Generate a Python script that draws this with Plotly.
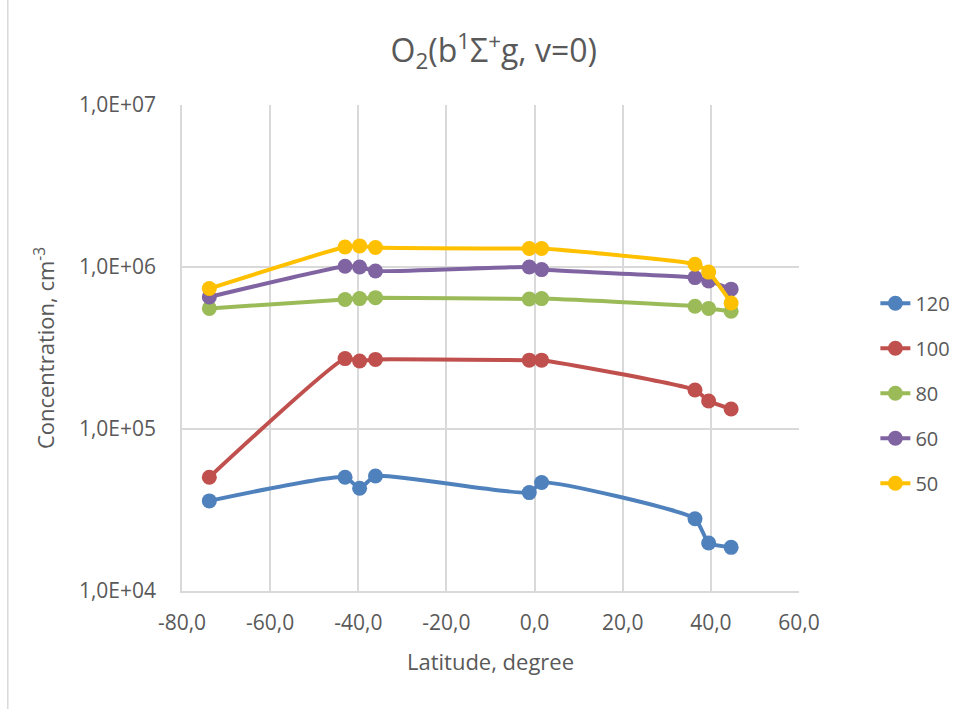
import plotly.graph_objects as go

latitude = [-73.8, -43.0, -39.7, -36.1, -1.2, 1.6, 36.4, 39.5, 44.6]

series_names = ["120", "100", "80", "60", "50"]
conc_120 = [3.6e4, 5.04e4, 4.31e4, 5.13e4, 4.05e4, 4.67e4, 2.79e4, 1.98e4, 1.86e4]
conc_100 = [5.04e4, 2.72e5, 2.63e5, 2.69e5, 2.66e5, 2.66e5, 1.74e5, 1.49e5, 1.33e5]
conc_80 = [5.55e5, 6.30e5, 6.38e5, 6.47e5, 6.35e5, 6.38e5, 5.73e5, 5.55e5, 5.33e5]
conc_60 = [6.53e5, 1.01e6, 1.00e6, 9.45e5, 1.00e6, 9.64e5, 8.60e5, 8.20e5, 7.30e5]
conc_50 = [7.36e5, 1.33e6, 1.35e6, 1.32e6, 1.30e6, 1.30e6, 1.04e6, 9.30e5, 6.00e5]

colors = ["#4F81BD", "#C0504D", "#9BBB59", "#8064A2", "#FFC000"]

x_tickvals = [-80, -60, -40, -20, 0, 20, 40, 60]
x_ticktext = ["-80,0", "-60,0", "-40,0", "-20,0", "0,0", "20,0", "40,0", "60,0"]
y_tickvals = [1e4, 1e5, 1e6, 1e7]
y_ticktext = ["1,0E+04", "1,0E+05", "1,0E+06", "1,0E+07"]

FONT = "Open Sans"
GRAY = "#595959"
GRID = "#D9D9D9"

fig = go.Figure()
for name, vals, col in zip(series_names, [conc_120, conc_100, conc_80, conc_60, conc_50], colors):
    fig.add_trace(go.Scatter(
        x=latitude, y=vals, name=name, mode="lines+markers",
        line=dict(color=col, width=4, shape="spline", smoothing=0.5),
        marker=dict(color=col, size=15),
        legendgroup=name,
    ))

fig.update_layout(
    width=970, height=709,
    margin=dict(l=181.5, r=170.5, t=104.7, b=118.3),
    paper_bgcolor="white", plot_bgcolor="white",
    font=dict(family=FONT, color=GRAY),
    title=dict(
        text="O<sub>2</sub>(b<sup>1</sup>Σ<sup>+</sup>g, v=0)",
        x=0.509, xref="container", xanchor="center",
        y=1 - 51 / 709, yref="container", yanchor="middle",
        font=dict(family=FONT, size=32, color=GRAY),
    ),
    xaxis=dict(
        range=[-80, 60], tickvals=x_tickvals, ticktext=x_ticktext,
        showgrid=True, gridcolor=GRID, gridwidth=1.5,
        showline=True, linecolor=GRID, linewidth=1.5,
        zeroline=False, ticks="", ticklabelstandoff=12,
        tickfont=dict(family=FONT, size=21, color=GRAY),
        title=dict(text="Latitude, degree", font=dict(family=FONT, size=22, color=GRAY), standoff=20),
    ),
    yaxis=dict(
        type="log", range=[4, 7], tickvals=y_tickvals, ticktext=y_ticktext,
        showgrid=True, gridcolor=GRID, gridwidth=1.5,
        showline=True, linecolor=GRID, linewidth=1.5,
        zeroline=False, ticks="", ticklabelstandoff=20,
        tickfont=dict(family=FONT, size=21, color=GRAY),
        title=dict(text="Concentration, cm<sup>-3</sup>", font=dict(family=FONT, size=22, color=GRAY), standoff=18),
    ),
    legend=dict(
        x=(876 - 181.5) / 618, xanchor="left",
        y=(590.7 - 393) / 486, yanchor="middle",
        font=dict(family=FONT, size=20, color=GRAY),
        tracegroupgap=16, bgcolor="rgba(0,0,0,0)",
    ),
    showlegend=True,
)

fig.add_shape(type="line", xref="paper", yref="paper",
              x0=(7 - 181.5) / 618, x1=(7 - 181.5) / 618, y0=-1, y1=2,
              line=dict(color=GRID, width=1.5))

fig.write_html("out.html", config={"displayModeBar": False},
               post_script="document.body.style.margin='0';")
